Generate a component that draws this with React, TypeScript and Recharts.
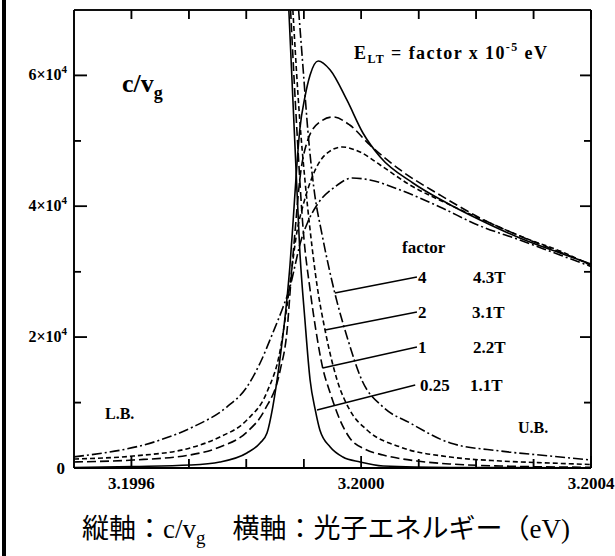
import React from 'react';
import { LineChart, Line, XAxis, YAxis } from 'recharts';

// ---- axes ----
const xDomain: [number, number] = [3.1995, 3.2004];
const yDomain: [number, number] = [0, 70000];
const xTicks = [3.1996, 3.1997, 3.1998, 3.1999, 3.2, 3.2001, 3.2002, 3.2003, 3.2004];
const xTickLabels = ['3.1996', '3.2000', '3.2004'];
const yTicks = [0, 10000, 20000, 30000, 40000, 50000, 60000];
const yTickMantissa: Record<number, string> = { 20000: '2', 40000: '4', 60000: '6' };

// ---- lower branch (L.B.) c/vg vs photon energy, per factor ----
const lbFactor025 = [
  { x: 3.1995, y: 80 }, { x: 3.199603, y: 230 }, { x: 3.199702, y: 460 }, { x: 3.199754, y: 920 },
  { x: 3.199801, y: 2290 }, { x: 3.199824, y: 3820 }, { x: 3.199836, y: 5350 }, { x: 3.199846, y: 9320 },
  { x: 3.199859, y: 16970 }, { x: 3.199871, y: 26140 }, { x: 3.199876, y: 31030 }, { x: 3.199881, y: 37140 },
  { x: 3.199888, y: 46310 }, { x: 3.199893, y: 51660 }, { x: 3.199902, y: 56700 }, { x: 3.199911, y: 60070 },
  { x: 3.199925, y: 62210 }, { x: 3.199946, y: 60830 }, { x: 3.199975, y: 56250 }, { x: 3.200003, y: 51200 },
  { x: 3.200033, y: 47530 }, { x: 3.20009, y: 43560 }, { x: 3.200149, y: 40500 }, { x: 3.200207, y: 37900 },
  { x: 3.200276, y: 35150 }, { x: 3.200346, y: 32860 }, { x: 3.2004, y: 31180 },
];
const lbFactor1 = [
  { x: 3.1995, y: 920 }, { x: 3.199603, y: 1220 }, { x: 3.199702, y: 1990 }, { x: 3.199754, y: 3210 },
  { x: 3.199801, y: 5500 }, { x: 3.199832, y: 8870 }, { x: 3.199859, y: 14980 }, { x: 3.199871, y: 21090 },
  { x: 3.199878, y: 29040 }, { x: 3.199885, y: 36380 }, { x: 3.199893, y: 44020 }, { x: 3.199907, y: 50130 },
  { x: 3.199928, y: 52880 }, { x: 3.199951, y: 53650 }, { x: 3.19998, y: 52420 }, { x: 3.200015, y: 49370 },
  { x: 3.200068, y: 45550 }, { x: 3.200137, y: 41730 }, { x: 3.200207, y: 38210 }, { x: 3.200276, y: 35460 },
  { x: 3.200346, y: 33010 }, { x: 3.2004, y: 31100 },
];
const lbFactor2 = [
  { x: 3.1995, y: 1380 }, { x: 3.199603, y: 1830 }, { x: 3.199702, y: 3060 }, { x: 3.199754, y: 4740 },
  { x: 3.199801, y: 7340 }, { x: 3.199836, y: 11620 }, { x: 3.199859, y: 18040 }, { x: 3.199871, y: 24910 },
  { x: 3.19988, y: 31030 }, { x: 3.199888, y: 36070 }, { x: 3.199899, y: 40200 }, { x: 3.199914, y: 44320 },
  { x: 3.199937, y: 47840 }, { x: 3.199967, y: 49060 }, { x: 3.199998, y: 48300 }, { x: 3.200033, y: 46310 },
  { x: 3.200085, y: 43250 }, { x: 3.200155, y: 40200 }, { x: 3.200224, y: 37450 }, { x: 3.200294, y: 34850 },
  { x: 3.200346, y: 33170 }, { x: 3.2004, y: 30950 },
];
const lbFactor4 = [
  { x: 3.1995, y: 1700 }, { x: 3.19965, y: 4280 }, { x: 3.199707, y: 6270 }, { x: 3.199766, y: 9320 },
  { x: 3.199801, y: 12380 }, { x: 3.199824, y: 16050 }, { x: 3.199846, y: 20630 }, { x: 3.199864, y: 24610 },
  { x: 3.199876, y: 27660 }, { x: 3.199885, y: 31030 }, { x: 3.199893, y: 34080 }, { x: 3.199907, y: 37600 },
  { x: 3.199923, y: 40200 }, { x: 3.199954, y: 42950 }, { x: 3.199984, y: 44320 }, { x: 3.200015, y: 44020 },
  { x: 3.200068, y: 42490 }, { x: 3.200137, y: 39890 }, { x: 3.200207, y: 36990 }, { x: 3.200276, y: 34850 },
  { x: 3.200346, y: 32550 }, { x: 3.2004, y: 30800 },
];

// ---- upper branch (U.B.), starting where it leaves the top of the frame ----
const ubFactor025 = [
  { x: 3.199874, y: 70000 }, { x: 3.199885, y: 48600 }, { x: 3.199893, y: 33320 }, { x: 3.199902, y: 22620 },
  { x: 3.199911, y: 13450 }, { x: 3.19992, y: 8870 }, { x: 3.199928, y: 5810 }, { x: 3.199946, y: 3210 },
  { x: 3.199968, y: 1680 }, { x: 3.199998, y: 920 }, { x: 3.200038, y: 310 }, { x: 3.200155, y: 80 },
  { x: 3.2004, y: 20 },
];
const ubFactor1 = [
  { x: 3.199877, y: 70000 }, { x: 3.199888, y: 51660 }, { x: 3.199899, y: 36380 }, { x: 3.199911, y: 27210 },
  { x: 3.199921, y: 21090 }, { x: 3.199933, y: 15280 }, { x: 3.199946, y: 11460 }, { x: 3.199963, y: 7340 },
  { x: 3.19998, y: 4590 }, { x: 3.200006, y: 2900 }, { x: 3.200038, y: 1990 }, { x: 3.200097, y: 1070 },
  { x: 3.200155, y: 610 }, { x: 3.200242, y: 310 }, { x: 3.2004, y: 110 },
];
const ubFactor2 = [
  { x: 3.199881, y: 70000 }, { x: 3.199893, y: 53190 }, { x: 3.199902, y: 44020 }, { x: 3.199911, y: 36380 },
  { x: 3.199923, y: 27970 }, { x: 3.199937, y: 21090 }, { x: 3.199958, y: 13450 }, { x: 3.19998, y: 8870 },
  { x: 3.20001, y: 5810 }, { x: 3.200068, y: 3210 }, { x: 3.200155, y: 1680 }, { x: 3.200242, y: 1070 },
  { x: 3.200329, y: 760 }, { x: 3.2004, y: 530 },
];
const ubFactor4 = [
  { x: 3.199891, y: 70000 }, { x: 3.199899, y: 60830 }, { x: 3.199907, y: 51660 }, { x: 3.199918, y: 42490 },
  { x: 3.199932, y: 35610 }, { x: 3.199954, y: 26750 }, { x: 3.199977, y: 19560 }, { x: 3.200001, y: 13450 },
  { x: 3.200038, y: 9320 }, { x: 3.200085, y: 6880 }, { x: 3.200155, y: 3820 }, { x: 3.200242, y: 2600 },
  { x: 3.200329, y: 1830 }, { x: 3.2004, y: 1220 },
];

// ---- label pointer segments (curve -> label end) ----
const pointer4 = [{ x: 3.199954, y: 26750 }, { x: 3.200097, y: 29190 }];
const pointer2 = [{ x: 3.199937, y: 21090 }, { x: 3.200097, y: 23840 }];
const pointer1 = [{ x: 3.199933, y: 15280 }, { x: 3.200097, y: 18490 }];
const pointer025 = [{ x: 3.199923, y: 8870 }, { x: 3.200094, y: 12690 }];

const SERIF = '"Liberation Serif", "DejaVu Serif", serif';
const INK = '#000';

// plot frame geometry (chart margins + axis sizes)
const PLOT = { left: 74, top: 10, width: 517, height: 458 };
const px = (v: number) => PLOT.left + ((v - xDomain[0]) / (xDomain[1] - xDomain[0])) * PLOT.width;
const py = (v: number) => PLOT.top + PLOT.height - ((v - yDomain[0]) / (yDomain[1] - yDomain[0])) * PLOT.height;

const BottomTick = (props: any) => {
  const x = Number(props.x);
  const y = Number(props.y);
  const label = Number(props.payload.value).toFixed(4);
  const labeled = xTickLabels.includes(label);
  return (
    <g>
      <line x1={x} x2={x} y1={y} y2={y - (labeled ? 12 : 9)} stroke={INK} strokeWidth={1.5} />
      {labeled && (
        <text x={x} y={y + 21} textAnchor="middle" fontFamily={SERIF} fontWeight="bold" fontSize={17} fill={INK}>
          {label}
        </text>
      )}
    </g>
  );
};

const TopTick = (props: any) => {
  const x = Number(props.x);
  const y = Number(props.y);
  return <line x1={x} x2={x} y1={y} y2={y + 9} stroke={INK} strokeWidth={1.5} />;
};

const LeftTick = (props: any) => {
  const x = Number(props.x);
  const y = Number(props.y);
  const v = Number(props.payload.value);
  const major = v % 20000 === 0;
  return (
    <g>
      <line x1={x} x2={x + (major ? 13 : 7)} y1={y} y2={y} stroke={INK} strokeWidth={1.5} />
      {major && v === 0 && (
        <text x={x - 9} y={y + 6} textAnchor="end" fontFamily={SERIF} fontWeight="bold" fontSize={17} fill={INK}>0</text>
      )}
      {major && v !== 0 && (
        <text x={x - 7} y={y + 5} textAnchor="end" fontFamily={SERIF} fontWeight="bold" fontSize={16} fill={INK}>
          {yTickMantissa[v]}×10<tspan dy={-7} fontSize={11}>4</tspan>
        </text>
      )}
    </g>
  );
};

const RightTick = (props: any) => {
  const x = Number(props.x);
  const y = Number(props.y);
  const major = Number(props.payload.value) % 20000 === 0;
  return <line x1={x} x2={x - (major ? 11 : 7)} y1={y} y2={y} stroke={INK} strokeWidth={1.5} />;
};

const lineProps = {
  type: 'monotone' as const,
  dataKey: 'y',
  stroke: INK,
  strokeWidth: 1.6,
  dot: false,
  activeDot: false,
  isAnimationActive: false,
};
const ubProps = { ...lineProps, xAxisId: 'top', yAxisId: 'right' };
const pointerProps = { ...lineProps, type: 'linear' as const, strokeWidth: 1.4 };

const txt = { fontFamily: SERIF, fontWeight: 'bold' as const, fill: INK };

export default function App() {
  const bottom = PLOT.top + PLOT.height;
  const right = PLOT.left + PLOT.width;
  return (
    <div style={{ position: 'absolute', left: 0, top: 0, width: 615, height: 556, background: '#fff' }}>
      <svg width={615} height={556} style={{ position: 'absolute', left: 0, top: 0 }}>
        <rect x={2} y={0} width={4} height={556} fill={INK} />
        {/* frame and inward ticks */}
        <line x1={PLOT.left} x2={right} y1={PLOT.top} y2={PLOT.top} stroke={INK} strokeWidth={1.5} />
        <line x1={right} x2={right} y1={PLOT.top} y2={bottom} stroke={INK} strokeWidth={1.6} />
        <line x1={PLOT.left} x2={PLOT.left} y1={PLOT.top} y2={bottom} stroke={INK} strokeWidth={1.6} />
        <line x1={PLOT.left} x2={right} y1={bottom} y2={bottom} stroke={INK} strokeWidth={2} />
        {xTicks.map((t) => {
          const labeled = xTickLabels.includes(t.toFixed(4));
          return (
            <g key={`xt${t}`}>
              <line x1={px(t)} x2={px(t)} y1={bottom} y2={bottom - (labeled ? 12 : 9)} stroke={INK} strokeWidth={1.5} />
              <line x1={px(t)} x2={px(t)} y1={PLOT.top} y2={PLOT.top + 9} stroke={INK} strokeWidth={1.5} />
            </g>
          );
        })}
        {yTicks.map((t) => {
          const major = t % 20000 === 0;
          return (
            <g key={`yt${t}`}>
              <line x1={PLOT.left} x2={PLOT.left + (major ? 13 : 7)} y1={py(t)} y2={py(t)} stroke={INK} strokeWidth={1.5} />
              <line x1={right} x2={right - (major ? 11 : 7)} y1={py(t)} y2={py(t)} stroke={INK} strokeWidth={1.5} />
            </g>
          );
        })}
        <text x={122} y={92} fontSize={26} {...txt}>
          c/v<tspan dy={7} fontSize={18}>g</tspan>
        </text>
        <text x={354} y={59} fontSize={18} {...txt} textLength={193} lengthAdjust="spacing">
          E<tspan fontSize={12} dy={4}>LT</tspan>
          <tspan dy={-4}> = factor x 10</tspan>
          <tspan fontSize={12} dy={-8}>-5</tspan>
          <tspan dy={8}> eV</tspan>
        </text>
        <text x={402} y={253} fontSize={17} {...txt}>factor</text>
        <text x={418} y={283} fontSize={17} {...txt}>4</text>
        <text x={473} y={283} fontSize={17} {...txt}>4.3T</text>
        <text x={418} y={318} fontSize={17} {...txt}>2</text>
        <text x={472} y={318} fontSize={17} {...txt}>3.1T</text>
        <text x={418} y={353} fontSize={17} {...txt}>1</text>
        <text x={473} y={353} fontSize={17} {...txt}>2.2T</text>
        <text x={420} y={391} fontSize={17} {...txt}>0.25</text>
        <text x={470} y={391} fontSize={17} {...txt}>1.1T</text>
        <text x={105} y={419} fontSize={16} {...txt}>L.B.</text>
        <text x={518} y={433} fontSize={16} {...txt}>U.B.</text>
        <text
          x={326}
          y={538}
          textAnchor="middle"
          fontSize={27}
          fill={INK}
          fontFamily={'"Liberation Serif", "Noto Sans CJK JP", serif'}
        >
          縦軸：c/v<tspan fontSize={19} dy={6}>g</tspan>
          <tspan dy={-6}>　横軸：光子エネルギー（eV)</tspan>
        </text>
      </svg>

      <LineChart width={615} height={556} margin={{ top: 9, right: 23, bottom: 0, left: 0 }}>
        <XAxis
          xAxisId={0}
          type="number"
          dataKey="x"
          domain={xDomain}
          ticks={xTicks}
          interval={0}
          height={88}
          tickSize={0}
          tickMargin={0}
          tickLine={false}
          tick={<BottomTick />}
          axisLine={{ stroke: INK, strokeWidth: 2 }}
        />
        <XAxis
          xAxisId="top"
          orientation="top"
          type="number"
          dataKey="x"
          domain={xDomain}
          ticks={xTicks}
          interval={0}
          height={1}
          tickSize={0}
          tickMargin={0}
          tickLine={false}
          tick={<TopTick />}
          axisLine={{ stroke: INK, strokeWidth: 1.5 }}
        />
        <YAxis
          yAxisId={0}
          type="number"
          domain={yDomain}
          ticks={yTicks}
          interval={0}
          width={74}
          tickSize={0}
          tickMargin={0}
          tickLine={false}
          tick={<LeftTick />}
          axisLine={{ stroke: INK, strokeWidth: 1.6 }}
        />
        <YAxis
          yAxisId="right"
          orientation="right"
          type="number"
          domain={yDomain}
          ticks={yTicks}
          interval={0}
          width={1}
          tickSize={0}
          tickMargin={0}
          tickLine={false}
          tick={<RightTick />}
          axisLine={{ stroke: INK, strokeWidth: 1.6 }}
        />

        <Line {...lineProps} data={lbFactor025} />
        <Line {...lineProps} data={lbFactor1} strokeDasharray="9 4" />
        <Line {...lineProps} data={lbFactor2} strokeDasharray="5 3" />
        <Line {...lineProps} data={lbFactor4} strokeDasharray="10 3 2 3" />
        <Line {...ubProps} data={ubFactor025} />
        <Line {...ubProps} data={ubFactor1} strokeDasharray="9 4" />
        <Line {...ubProps} data={ubFactor2} strokeDasharray="5 3" />
        <Line {...ubProps} data={ubFactor4} strokeDasharray="10 3 2 3" />

        <Line {...pointerProps} data={pointer4} />
        <Line {...pointerProps} data={pointer2} />
        <Line {...pointerProps} data={pointer1} />
        <Line {...pointerProps} data={pointer025} />
      </LineChart>
    </div>
  );
}
